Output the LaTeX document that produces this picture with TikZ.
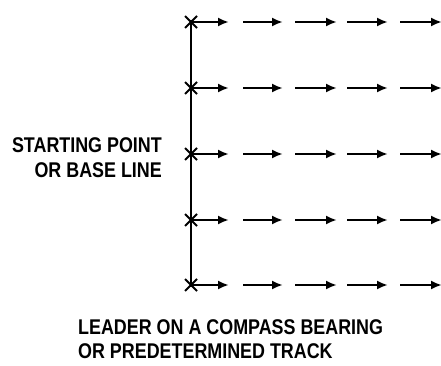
\documentclass[tikz,border=0pt]{standalone}
\usepackage{fontspec}
\setmainfont{Liberation Sans}[FakeStretch=0.84]
\usetikzlibrary{arrows.meta,calc}
\tikzset{
  arr/.style={line width=2.3pt,-{Latex[length=11pt,width=9pt]}},
  baseline line/.style={line width=2.2pt},
  crossmark/.style={line width=1.8pt},
  lbl/.style={font=\bfseries\fontsize{21.3}{25}\selectfont,inner sep=0pt,align=right},
  lblb/.style={font=\bfseries\fontsize{21.3}{24}\selectfont,inner sep=0pt,align=left}
}
\begin{document}
\begin{tikzpicture}[x=1pt,y=-1pt]
\fill[white] (0,0) rectangle (441,366);
\useasboundingbox (0,0) rectangle (441,366);
% base line
\coordinate (top) at (191,20);
\coordinate (bot) at (191,287);
\draw[baseline line] (top) -- (bot);
\foreach \r/\y in {1/22,2/88,3/154,4/220,5/285}{
  \coordinate (c\r) at (191,\y);
  \draw[crossmark] ($(c\r)+(-6,-6)$) -- ($(c\r)+(6,6)$);
  \draw[crossmark] ($(c\r)+(-6,6)$) -- ($(c\r)+(6,-6)$);
  \foreach \k/\a/\b in {1/192/229,2/243/283,3/295/337,4/347/388,5/400/442}{
    \coordinate (s\r\k) at (\a,\y);
    \coordinate (e\r\k) at (\b,\y);
    \draw[arr] (s\r\k) -- (e\r\k);
  }
}
\node[lbl,anchor=north east] (start) at (162,137) {STARTING POINT\\OR BASE LINE};
\node[lblb,anchor=north west] (leader) at (78,319) {LEADER ON A COMPASS BEARING\\OR PREDETERMINED TRACK};
\end{tikzpicture}
\end{document}
